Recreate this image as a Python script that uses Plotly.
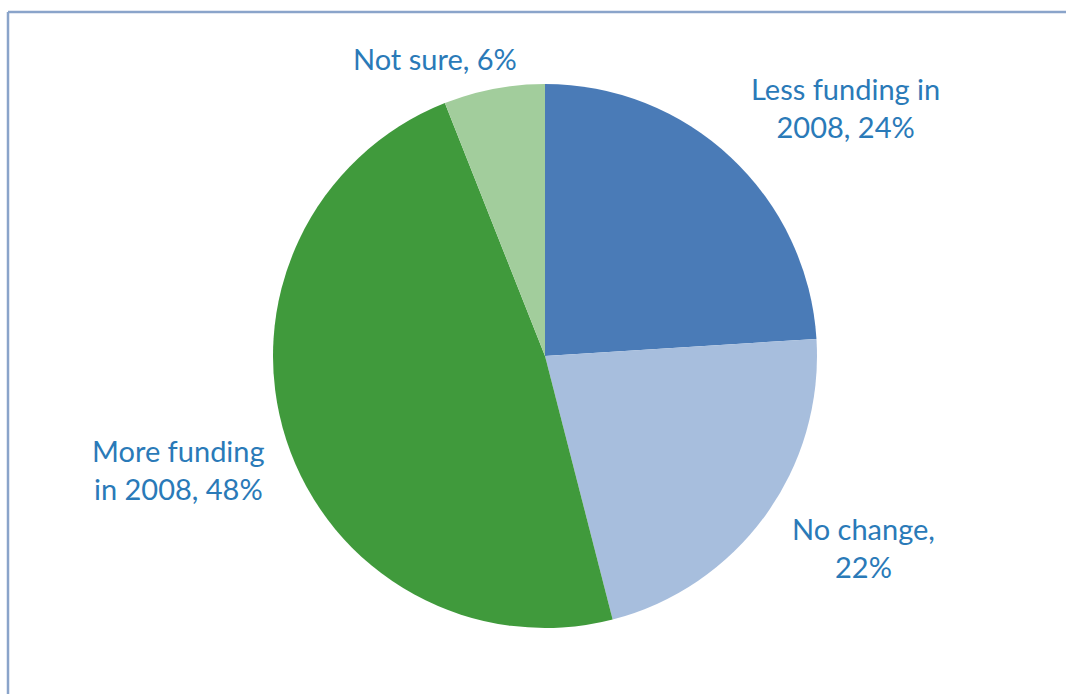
import textwrap
import plotly.graph_objects as go

# Survey responses on 2008 funding outlook
categories = ["Less funding in 2008", "No change", "More funding in 2008", "Not sure"]
percentages = [24, 22, 48, 6]
slice_colors = ["#4A7BB7", "#A7BEDD", "#409A3C", "#A2CD9C"]

# Label placement (paper coords) and wrap width for each category
W, H = 1066, 694
label_pos = [(845, 107), (863, 547), (178, 469), (435, 58)]
wrap_width = [15, 10, 12, 20]

fig = go.Figure(
    go.Pie(
        labels=categories,
        values=percentages,
        marker=dict(colors=slice_colors, line=dict(width=0)),
        sort=False,
        direction="clockwise",
        rotation=0,
        textinfo="none",
        hoverinfo="label+percent",
        showlegend=False,
        domain=dict(x=[(545 - 272) / W, (545 + 272) / W],
                    y=[(694 - 356 - 272) / H, (694 - 356 + 272) / H]),
    )
)

for name, pct, (px, py), ww in zip(categories, percentages, label_pos, wrap_width):
    text = "<br>".join(textwrap.wrap(f"{name}, {pct}%", ww))
    fig.add_annotation(
        x=px / W, y=1 - py / H, xref="paper", yref="paper",
        text=text, showarrow=False, align="center",
        xanchor="center", yanchor="middle",
        font=dict(family="Lato, 'Open Sans', sans-serif", size=29, color="#2A7AB8"),
    )

# Chart frame (top and left edges visible)
frame = dict(color="#8AA4CA", width=2.5)
fig.add_shape(type="line", xref="paper", yref="paper",
              x0=8 / W, y0=1 - 12 / H, x1=1.0, y1=1 - 12 / H, line=frame)
fig.add_shape(type="line", xref="paper", yref="paper",
              x0=8 / W, y0=1 - 12 / H, x1=8 / W, y1=0, line=frame)

fig.update_layout(
    width=W, height=H,
    margin=dict(l=0, r=0, t=0, b=0),
    paper_bgcolor="white",
    plot_bgcolor="white",
)

fig.write_html("out.html")
